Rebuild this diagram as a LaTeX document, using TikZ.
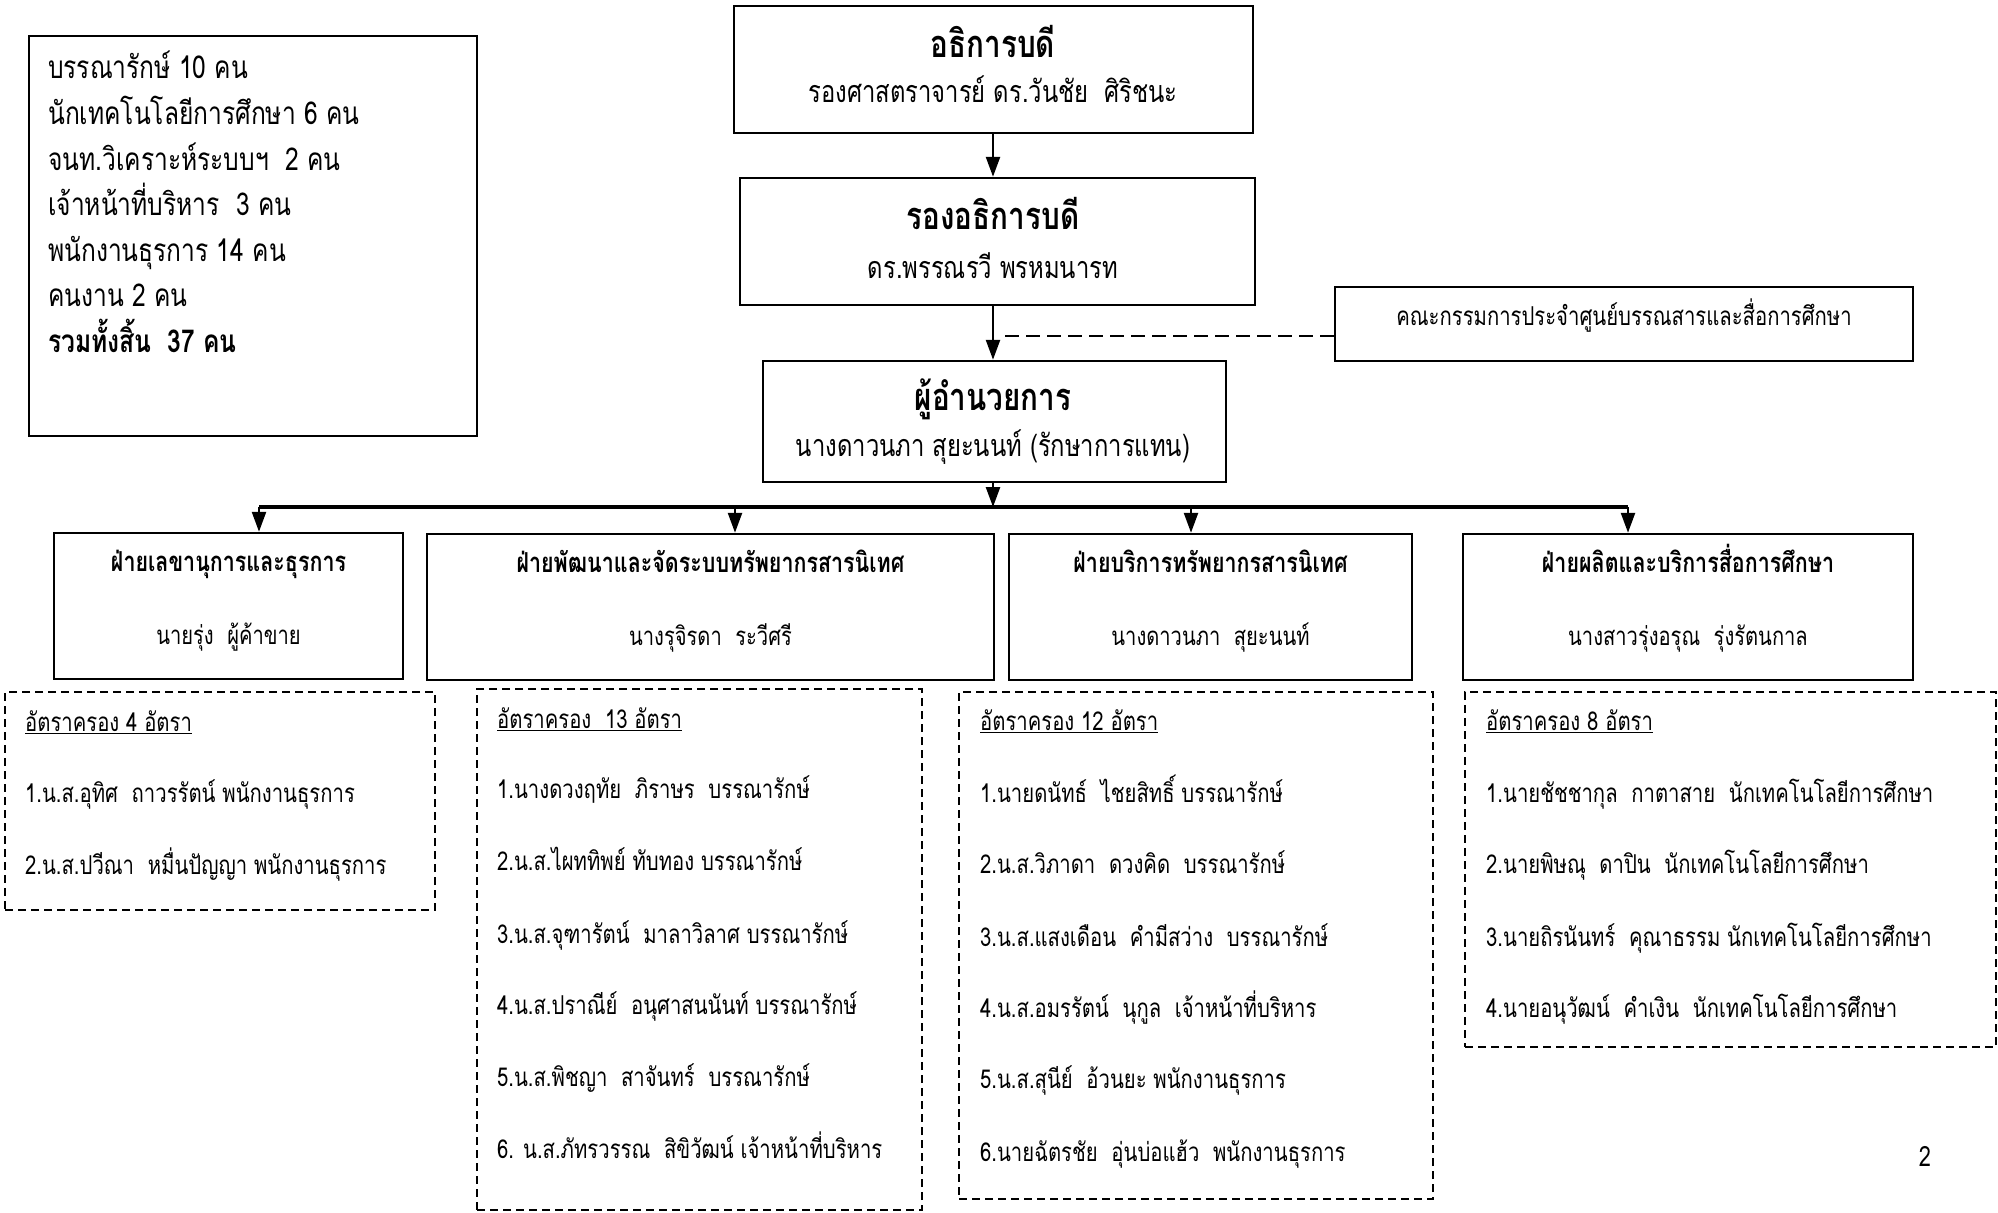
\documentclass[tikz,border=0pt]{standalone}
\usepackage{fontspec}
\setmainfont[Script=Thai, FakeStretch=0.78]{Loma}
\usetikzlibrary{arrows.meta}
\tikzset{
  box/.style={draw, line width=2.5pt, inner sep=0pt},
  dbox/.style={draw, line width=2pt, dash pattern=on 8pt off 5pt, inner sep=0pt},
  arr/.style={line width=2.5pt, -{Triangle[length=20pt,width=14pt]}},
  bar/.style={line width=4.5pt},
  txt/.style={inner sep=0pt, yshift=-7pt},
  ttl/.style={txt, anchor=mid, yshift=-5pt, font=\fontsize{38}{44}\selectfont\bfseries},
  sub/.style={txt, anchor=mid, font=\fontsize{30.5}{36}\selectfont},
  info/.style={txt, anchor=mid west, font=\fontsize{31.5}{36}\selectfont},
  dttl/.style={txt, anchor=mid, font=\fontsize{27.5}{32}\selectfont\bfseries},
  dname/.style={txt, anchor=mid, font=\fontsize{25.8}{30}\selectfont},
  item/.style={txt, anchor=mid west, font=\fontsize{26}{30}\selectfont},
}
\begin{document}
\begin{tikzpicture}[x=1pt,y=-1pt]
\useasboundingbox (0,0) rectangle (1998,1213);
% info box
\node[box, minimum width=448pt, minimum height=400pt] (infobox) at (253,236) {};
\node[info] (i1) at (48,69) {บรรณารักษ์ 10 คน};
\node[info] (i2) at (48,115) {นักเทคโนโลยีการศึกษา 6 คน};
\node[info] (i3) at (48,161) {จนท.วิเคราะห์ระบบฯ~ 2 คน};
\node[info] (i4) at (48,206) {เจ้าหน้าที่บริหาร~ 3 คน};
\node[info] (i5) at (48,252) {พนักงานธุรการ 14 คน};
\node[info] (i6) at (48,297) {คนงาน 2 คน};
\node[info, font=\fontsize{31.5}{36}\selectfont\bfseries] (i7) at (48,343) {รวมทั้งสิ้น~ 37 คน};
% top chain
\node[box, minimum width=519pt, minimum height=127pt] (top) at (993.5,69.5) {};
\node[ttl] (topT) at (993,43) {อธิการบดี};
\node[sub] (topS) at (993,93) {รองศาสตราจารย์ ดร.วันชัย~ ศิริชนะ};
\node[box, minimum width=515pt, minimum height=127pt] (vp) at (997.5,241.5) {};
\node[ttl] (vpT) at (993,215) {รองอธิการบดี};
\node[sub] (vpS) at (993,269) {ดร.พรรณรวี พรหมนารท};
\node[box, minimum width=578pt, minimum height=74pt] (com) at (1624,324) {};
\node[dname, font=\fontsize{26}{30}\selectfont] (comT) at (1624,316) {คณะกรรมการประจำศูนย์บรรณสารและสื่อการศึกษา};
\node[box, minimum width=463pt, minimum height=121pt] (dir) at (994.5,421.5) {};
\node[ttl] (dirT) at (993,396) {ผู้อำนวยการ};
\node[sub] (dirS) at (993,447) {นางดาวนภา สุยะนนท์ (รักษาการแทน)};
\coordinate (spine) at (993,0);
\coordinate (dashpt) at (1000,336);
\coordinate (barL) at (259,507);
\coordinate (barR) at (1628,507);
\coordinate (barM) at (993,507);
\draw[arr] (top.south -| spine) -- (vp.north -| spine);
\draw[arr] (vp.south -| spine) -- (dir.north -| spine);
\draw[line width=2pt, dash pattern=on 14pt off 7pt] (com.west |- dashpt) -- (dashpt);
\draw[arr] (dir.south -| spine) -- (barM);
\draw[bar] (barL) -- (barR);
% departments
\node[box, minimum width=349pt, minimum height=146pt] (d1) at (228.5,606) {};
\node[box, minimum width=567pt, minimum height=146pt] (d2) at (710.5,607) {};
\node[box, minimum width=403pt, minimum height=146pt] (d3) at (1210.5,607) {};
\node[box, minimum width=450pt, minimum height=146pt] (d4) at (1688,607) {};
\coordinate (x1) at (259,0);
\coordinate (x2) at (735,0);
\coordinate (x3) at (1191,0);
\coordinate (x4) at (1628,0);
\draw[arr] (barL) -- (d1.north -| x1);
\draw[arr] (barM -| x2) -- (d2.north -| x2);
\draw[arr] (barM -| x3) -- (d3.north -| x3);
\draw[arr] (barR) -- (d4.north -| x4);
\node[dttl] (d1T) at (228.5,562) {ฝ่ายเลขานุการและธุรการ};
\node[dname] (d1N) at (228.5,635) {นายรุ่ง~ ผู้ค้าขาย};
\node[dttl] (d2T) at (710.5,563) {ฝ่ายพัฒนาและจัดระบบทรัพยากรสารนิเทศ};
\node[dname] (d2N) at (710.5,636) {นางรุจิรดา~ ระวีศรี};
\node[dttl] (d3T) at (1210.5,563) {ฝ่ายบริการทรัพยากรสารนิเทศ};
\node[dname] (d3N) at (1210.5,636) {นางดาวนภา~ สุยะนนท์};
\node[dttl] (d4T) at (1688,563) {ฝ่ายผลิตและบริการสื่อการศึกษา};
\node[dname] (d4N) at (1688,636) {นางสาวรุ่งอรุณ~ รุ่งรัตนกาล};
% staff lists
\node[dbox, minimum width=430pt, minimum height=218pt] (s1) at (220,801) {};
\node[item] (s1h) at (25,722) {\underline{อัตราครอง 4 อัตรา}};
\node[item] (s1a) at (25,793) {1.น.ส.อุทิศ~ ถาวรรัตน์ พนักงานธุรการ};
\node[item] (s1b) at (25,865) {2.น.ส.ปวีณา~ หมื่นปัญญา พนักงานธุรการ};
\node[dbox, minimum width=445pt, minimum height=521pt] (s2) at (699.5,949.5) {};
\node[item] (s2h) at (497,719) {\underline{อัตราครอง~ 13 อัตรา}};
\node[item] (s2a) at (497,789) {1.นางดวงฤทัย~ ภิราษร~ บรรณารักษ์};
\node[item] (s2b) at (497,861) {2.น.ส.ไผททิพย์ ทับทอง บรรณารักษ์};
\node[item] (s2c) at (497,934) {3.น.ส.จุฑารัตน์~ มาลาวิลาศ บรรณารักษ์};
\node[item] (s2d) at (497,1005) {4.น.ส.ปราณีย์~ อนุศาสนนันท์ บรรณารักษ์};
\node[item] (s2e) at (497,1077) {5.น.ส.พิชญา~ สาจันทร์~ บรรณารักษ์};
\node[item] (s2f) at (497,1149) {6. น.ส.ภัทรวรรณ~ สิขิวัฒน์ เจ้าหน้าที่บริหาร};
\node[dbox, minimum width=474pt, minimum height=507pt] (s3) at (1196,945.5) {};
\node[item] (s3h) at (980,721) {\underline{อัตราครอง 12 อัตรา}};
\node[item] (s3a) at (980,793) {1.นายดนัทธ์~ ไชยสิทธิ์ บรรณารักษ์};
\node[item] (s3b) at (980,864) {2.น.ส.วิภาดา~ ดวงคิด~ บรรณารักษ์};
\node[item] (s3c) at (980,937) {3.น.ส.แสงเดือน~ คำมีสว่าง~ บรรณารักษ์};
\node[item] (s3d) at (980,1008) {4.น.ส.อมรรัตน์~ นุกูล~ เจ้าหน้าที่บริหาร};
\node[item] (s3e) at (980,1079) {5.น.ส.สุนีย์~ อ้วนยะ พนักงานธุรการ};
\node[item] (s3f) at (980,1152) {6.นายฉัตรชัย~ อุ่นบ่อแฮ้ว~ พนักงานธุรการ};
\node[dbox, minimum width=531pt, minimum height=355pt] (s4) at (1730.5,869.5) {};
\node[item] (s4h) at (1486,721) {\underline{อัตราครอง 8 อัตรา}};
\node[item] (s4a) at (1486,793) {1.นายชัชชากุล~ กาตาสาย~ นักเทคโนโลยีการศึกษา};
\node[item] (s4b) at (1486,864) {2.นายพิษณุ~ ดาปิน~ นักเทคโนโลยีการศึกษา};
\node[item] (s4c) at (1486,937) {3.นายถิรนันทร์~ คุณาธรรม นักเทคโนโลยีการศึกษา};
\node[item] (s4d) at (1486,1008) {4.นายอนุวัฒน์~ คำเงิน~ นักเทคโนโลยีการศึกษา};
\node[sub, font=\fontsize{28}{32}\selectfont] (pg) at (1925,1157) {2};
\end{tikzpicture}
\end{document}
